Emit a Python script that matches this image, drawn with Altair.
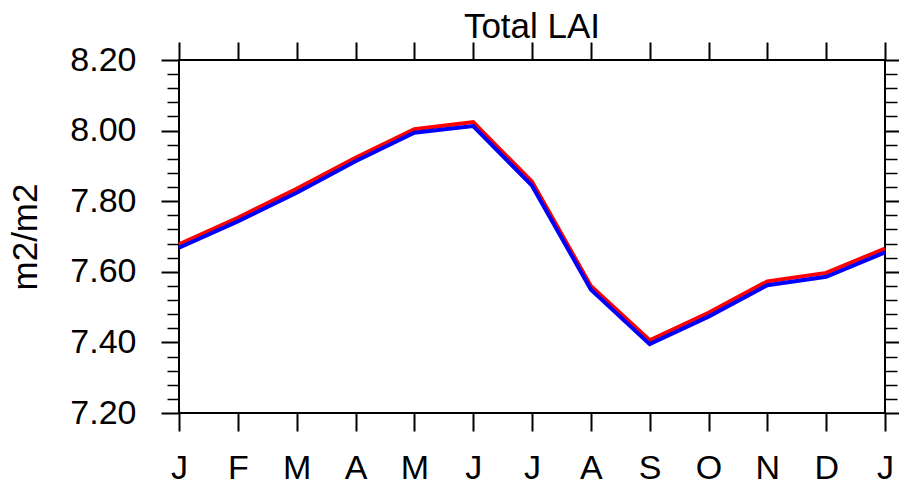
import altair as alt
import pandas as pd

# ---- data ----
months = ["J", "F", "M", "A", "M", "J", "J", "A", "S", "O", "N", "D", "J"]
month_pos = [0, 1, 2, 3, 4, 5, 6, 7, 8, 9, 10, 11, 12]
lai_red = [7.678, 7.753, 7.835, 7.923, 8.004, 8.024, 7.855, 7.560, 7.406, 7.484, 7.573, 7.597, 7.666]
lai_blue = [7.668, 7.743, 7.824, 7.913, 7.994, 8.013, 7.844, 7.550, 7.395, 7.473, 7.562, 7.586, 7.655]
y_major = [7.20, 7.40, 7.60, 7.80, 8.00, 8.20]
y_minor = [7.24, 7.28, 7.32, 7.36, 7.44, 7.48, 7.52, 7.56, 7.64, 7.68, 7.72, 7.76,
           7.84, 7.88, 7.92, 7.96, 8.04, 8.08, 8.12, 8.16]

df_red = pd.DataFrame({"m": month_pos, "v": lai_red})
df_blue = pd.DataFrame({"m": month_pos, "v": lai_blue})

FONT = "Liberation Sans"
xs = alt.Scale(domain=[0, 12], nice=False, zero=False)
ys = alt.Scale(domain=[7.2, 8.2], nice=False, zero=False)
label_expr = "[" + ",".join("'%s'" % m for m in months) + "][datum.value]"

common = dict(domain=False, grid=False, tickColor="black", labelColor="black",
              labelFont=FONT, titleFont=FONT)

x_bottom = alt.Axis(orient="bottom", values=month_pos, labelExpr=label_expr, tickSize=18,
                    tickWidth=2, labelFontSize=34, labelPadding=20, labelFlush=False,
                    labelOverlap=False, title=None, **common)
x_top = alt.Axis(orient="top", values=month_pos, labels=False, tickSize=18, tickWidth=2,
                 title=None, **common)
y_left = alt.Axis(orient="left", values=y_major, format=".2f", tickSize=18, tickWidth=2,
                  labelFontSize=34, labelPadding=25, labelFlush=False, labelOverlap=False,
                  title="m2/m2", titleFontSize=35, titleFontWeight="normal",
                  titleColor="black", titlePadding=26, **common)
y_right = alt.Axis(orient="right", values=y_major, labels=False, tickSize=18, tickWidth=2,
                   title=None, **common)
y_left_minor = alt.Axis(orient="left", values=y_minor, labels=False, tickSize=12,
                        tickWidth=1.5, title=None, **common)
y_right_minor = alt.Axis(orient="right", values=y_minor, labels=False, tickSize=12,
                         tickWidth=1.5, title=None, **common)

red = alt.Chart(df_red).mark_line(color="#ff0000", strokeWidth=4).encode(
    x=alt.X("m:Q", scale=xs, axis=x_bottom),
    y=alt.Y("v:Q", scale=ys, axis=y_left),
)
blue = alt.Chart(df_blue).mark_line(color="#0000ff", strokeWidth=4).encode(
    x=alt.X("m:Q", scale=xs, axis=x_top),
    y=alt.Y("v:Q", scale=ys, axis=y_right),
)
minor_l = alt.Chart(df_blue).mark_line(strokeOpacity=0).encode(
    x=alt.X("m:Q", scale=xs, axis=None),
    y=alt.Y("v:Q", scale=ys, axis=y_left_minor),
)
minor_r = alt.Chart(df_blue).mark_line(strokeOpacity=0).encode(
    x=alt.X("m:Q", scale=xs, axis=None),
    y=alt.Y("v:Q", scale=ys, axis=y_right_minor),
)

chart = (
    alt.layer(minor_l, minor_r, red, blue)
    .resolve_axis(x="independent", y="independent")
    .properties(
        width=706,
        height=353,
        title=alt.TitleParams("Total LAI", fontSize=35, font=FONT, fontWeight="normal",
                              color="black", anchor="middle", offset=-4),
        autosize=alt.AutoSizeParams(type="none"),
        padding={"left": 179, "top": 60, "right": 14, "bottom": 71},
        background="white",
    )
    .configure_view(stroke="black", strokeWidth=2, fill=None)
)

chart.save("out.html", embed_options={"renderer": "svg", "actions": False})
